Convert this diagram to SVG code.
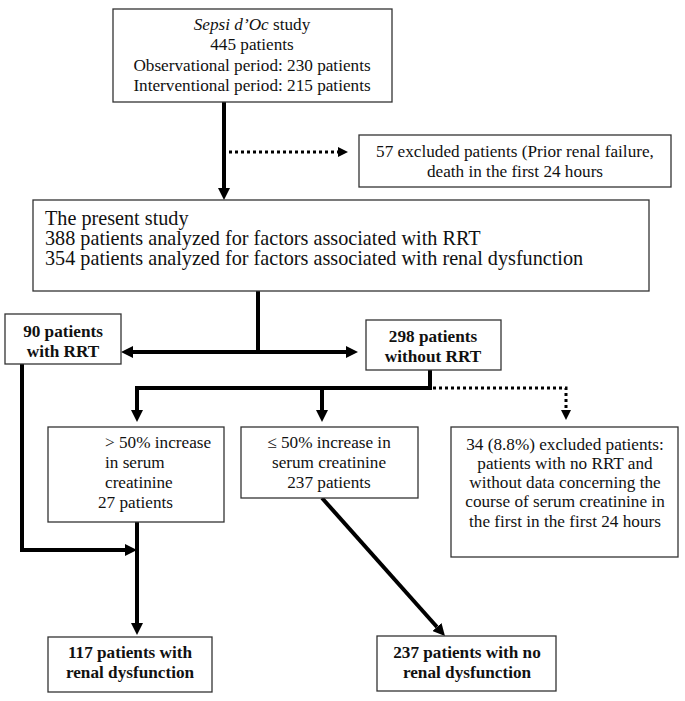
<svg xmlns="http://www.w3.org/2000/svg" width="685" height="701" viewBox="0 0 685 701">
<style>
.box{fill:#fff;stroke:#333;stroke-width:1.3}
.t{font-family:"Liberation Serif","Times New Roman",serif;font-size:17.2px;fill:#111}
.big{font-size:20.2px}
.c{text-anchor:middle}
.b{font-weight:bold}
.ln{fill:none;stroke:#000;stroke-width:4;stroke-linejoin:miter}
.dt{fill:none;stroke:#000;stroke-width:3;stroke-dasharray:3 3}
</style>
<defs>
<marker id="ah" markerUnits="userSpaceOnUse" markerWidth="12" markerHeight="12" refX="0" refY="6" orient="auto-start-reverse" viewBox="0 0 12 12">
<path d="M0,0 L12,6 L0,12 z" fill="#000"/>
</marker>
<marker id="ahs" markerUnits="userSpaceOnUse" markerWidth="10" markerHeight="10" refX="0" refY="5" orient="auto" viewBox="0 0 10 10">
<path d="M0,0 L10,5 L0,10 z" fill="#000"/>
</marker>
</defs>
<rect width="685" height="701" fill="#fff"/>
<g id="connectors">
<line class="ln" x1="224" y1="102" x2="224" y2="188" marker-end="url(#ah)"/>
<line class="dt" x1="229" y1="152" x2="338" y2="152" marker-end="url(#ahs)"/>
<line class="ln" x1="258" y1="291" x2="258" y2="352"/>
<line class="ln" x1="133" y1="352" x2="346" y2="352" marker-start="url(#ah)" marker-end="url(#ah)"/>
<polyline class="ln" points="430,370 430,388 135,388"/>
<line class="ln" x1="137" y1="386" x2="137" y2="410" marker-end="url(#ah)"/>
<line class="ln" x1="322" y1="388" x2="322" y2="410" marker-end="url(#ah)"/>
<polyline class="dt" points="433,388 566,388 566,410" />
<line x1="566" y1="408" x2="566" y2="410" stroke="none" marker-end="url(#ahs)"/>
<polyline class="ln" points="22,364 22,550 125,550" marker-end="url(#ah)"/>
<line class="ln" x1="137" y1="522" x2="137" y2="623" marker-end="url(#ah)"/>
<line class="ln" x1="322" y1="498" x2="437" y2="627" marker-end="url(#ah)"/>
</g>
<g id="sepsi">
<rect class="box" x="113" y="9" width="279" height="93"/>
<text class="t c" x="252" y="30"><tspan font-style="italic">Sepsi d’Oc</tspan> study</text>
<text class="t c" x="252" y="50">445 patients</text>
<text class="t c" x="252" y="71">Observational period: 230 patients</text>
<text class="t c" x="252" y="91">Interventional period: 215 patients</text>
</g>
<g id="excluded57">
<rect class="box" x="359" y="135" width="312" height="52"/>
<text class="t c" x="515" y="157">57 excluded patients (Prior renal failure,</text>
<text class="t c" x="515" y="177">death in the first 24 hours</text>
</g>
<g id="present">
<rect class="box" x="33" y="200" width="616" height="91"/>
<text class="t big" x="45" y="225">The present study</text>
<text class="t big" x="45" y="245">388 patients analyzed for factors associated with RRT</text>
<text class="t big" x="45" y="265">354 patients analyzed for factors associated with renal dysfunction</text>
</g>
<g id="withRRT">
<rect class="box" x="5" y="314" width="116" height="50"/>
<text class="t c b" x="63" y="337">90 patients</text>
<text class="t c b" x="63" y="357">with RRT</text>
</g>
<g id="withoutRRT">
<rect class="box" x="366" y="320" width="135" height="50"/>
<text class="t c b" x="433" y="342">298 patients</text>
<text class="t c b" x="433" y="362">without RRT</text>
</g>
<g id="gt50">
<rect class="box" x="48" y="427" width="176" height="95"/>
<text class="t" x="105" y="448">&gt; 50% increase</text>
<text class="t" x="105" y="468">in serum</text>
<text class="t" x="105" y="488">creatinine</text>
<text class="t" x="98" y="508">27 patients</text>
</g>
<g id="le50">
<rect class="box" x="241" y="427" width="177" height="71"/>
<text class="t c" x="329" y="448">≤ 50% increase in</text>
<text class="t c" x="329" y="468">serum creatinine</text>
<text class="t c" x="329" y="488">237 patients</text>
</g>
<g id="excluded34">
<rect class="box" x="451" y="427" width="227" height="130"/>
<text class="t c" x="565" y="450">34 (8.8%) excluded patients:</text>
<text class="t c" x="565" y="469">patients with no RRT and</text>
<text class="t c" x="565" y="488">without data concerning the</text>
<text class="t c" x="565" y="507">course of serum creatinine in</text>
<text class="t c" x="565" y="527">the first in the first 24 hours</text>
</g>
<g id="renal117">
<rect class="box" x="48" y="637" width="164" height="55"/>
<text class="t c b" x="130" y="658">117 patients with</text>
<text class="t c b" x="130" y="678">renal dysfunction</text>
</g>
<g id="norenal237">
<rect class="box" x="377" y="636" width="179" height="55"/>
<text class="t c b" x="467" y="658">237 patients with no</text>
<text class="t c b" x="467" y="678">renal dysfunction</text>
</g>
</svg>
